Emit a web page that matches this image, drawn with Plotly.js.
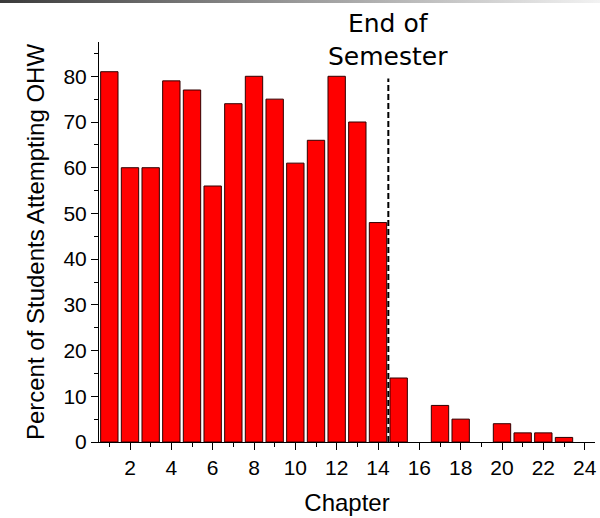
<!DOCTYPE html>
<html>
<head>
<meta charset="utf-8">
<script src="https://cdn.plot.ly/plotly-3.0.1.min.js"></script>
<style>
html,body{margin:0;padding:0;background:#fff;}
#wrap{position:relative;width:600px;height:518px;}
#bar{position:absolute;left:0;top:0;width:600px;height:3px;background:linear-gradient(to right,#3a3a3a,#9a9a9a 50%,#f2f2f2);z-index:5;}
#chart{position:absolute;left:0;top:0;width:600px;height:518px;}
</style>
</head>
<body>
<div id="wrap"><div id="bar"></div><div id="chart"></div></div>
<script>
const chapters = [1,2,3,4,5,6,7,8,9,10,11,12,13,14,15,16,17,18,19,20,21,22,23];
const percentAttempting = [81,60,60,79,77,56,74,80,75,61,66,80,70,48,14,0,8,5,0,4,2,2,1];
const xTickVals = [2,4,6,8,10,12,14,16,18,20,22,24];
const yTickVals = [0,10,20,30,40,50,60,70,80];
const endOfSemester = 14.5;
const markerTop = 79.5;

const trace = {
  type: 'bar',
  x: chapters,
  y: percentAttempting,
  width: 0.84,
  marker: {
    color: '#ff0000',
    line: {color: '#300000', width: percentAttempting.map(v => v > 0 ? 1 : 0)}
  },
  hoverinfo: 'x+y'
};

const tickFont = {family: 'Liberation Sans, Arial, sans-serif', size: 21, color: '#000'};
const titleFont = {family: 'Liberation Sans, Arial, sans-serif', size: 24, color: '#000'};

const layout = {
  width: 600, height: 518,
  margin: {l: 99, r: 5, t: 42, b: 76, pad: 0},
  paper_bgcolor: '#fff', plot_bgcolor: '#fff',
  showlegend: false,
  bargap: 0,
  xaxis: {
    range: [0.5, 24.5],
    tickvals: xTickVals,
    ticks: 'outside', ticklen: 7, tickwidth: 1, tickcolor: '#000',
    minor: {dtick: 1, tick0: 0, ticks: 'outside', ticklen: 4, tickcolor: '#000', tickwidth: 1},
    showline: true, linecolor: '#000', linewidth: 1,
    showgrid: false, zeroline: false,
    tickfont: tickFont,
    title: {text: 'Chapter', font: titleFont, standoff: 15}
  },
  yaxis: {
    range: [0, 87.5],
    tickvals: yTickVals,
    ticks: 'outside', ticklen: 7, tickwidth: 1, tickcolor: '#000',
    minor: {dtick: 5, tick0: 0, ticks: 'outside', ticklen: 4, tickcolor: '#000', tickwidth: 1},
    showline: true, linecolor: '#000', linewidth: 1,
    showgrid: false, zeroline: false,
    tickfont: tickFont,
    title: {text: 'Percent of Students Attempting OHW', font: titleFont, standoff: 12}
  },
  shapes: [{
    type: 'line', xref: 'x', yref: 'y',
    x0: endOfSemester, x1: endOfSemester, y0: 0, y1: markerTop,
    line: {color: '#000', width: 2, dash: '6px,3px'}
  }],
  annotations: [{
    xref: 'x', yref: 'paper', x: endOfSemester, y: 1.005,
    xanchor: 'center', yanchor: 'middle',
    text: 'End of<br>Semester', showarrow: false,
    font: {family: 'DejaVu Sans, sans-serif', size: 25, color: '#000'}
  }]
};

Plotly.newPlot('chart', [trace], layout, {displayModeBar: false, staticPlot: true});
</script>
</body>
</html>
